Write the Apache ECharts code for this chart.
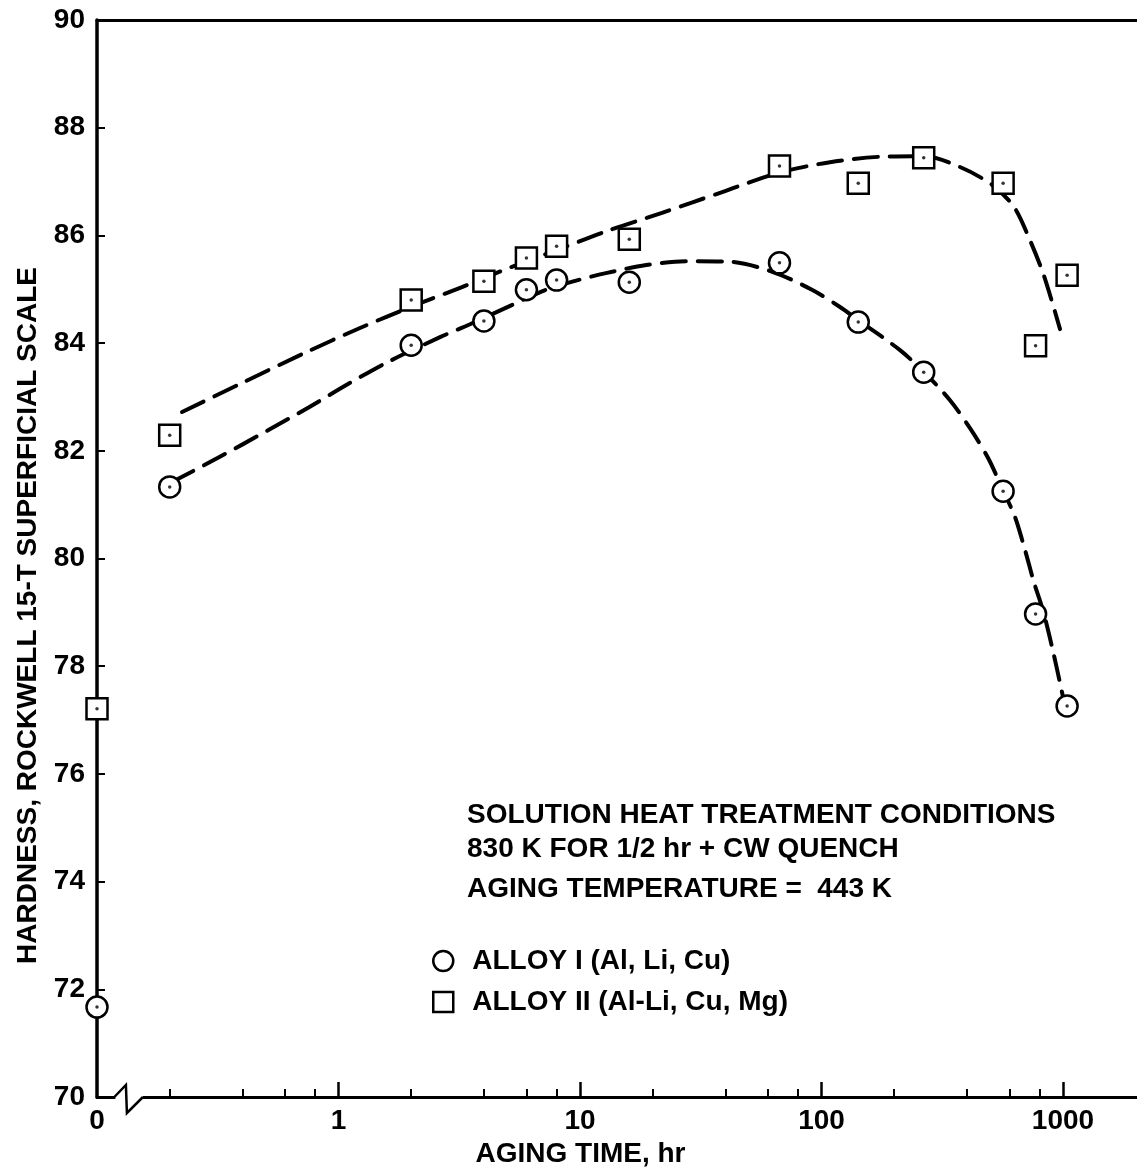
<!DOCTYPE html>
<html>
<head>
<meta charset="utf-8">
<script src="https://cdn.jsdelivr.net/npm/echarts@6/dist/echarts.min.js"></script>
<style>
  html, body { margin: 0; padding: 0; background: #fff; }
  #chart { width: 1137px; height: 1170px; }
</style>
</head>
<body>
<div id="chart"></div>
<script>
// measured points (aging time 0 sits at the broken start of the axis)
const alloy1Time = [0, 0.2, 2, 4, 6, 8, 16, 67, 142, 265, 565, 770, 1040];
const alloy1Hard = [71.67, 81.33, 83.96, 84.41, 84.99, 85.17, 85.13, 85.49, 84.39, 83.46, 81.25, 78.97, 77.26];
const alloy2Time = [0, 0.2, 2, 4, 6, 8, 16, 67, 142, 265, 565, 770, 1040];
const alloy2Hard = [77.21, 82.29, 84.80, 85.15, 85.58, 85.80, 85.93, 87.29, 86.97, 87.44, 86.97, 83.95, 85.26];

// dashed fitted curves
const curve1Time = [0.2045, 0.317, 0.515, 0.755, 1.095, 1.603, 2.633, 3.504, 4.80, 7.23, 9.81, 12.8, 18.8, 27.5, 41.8, 63.0, 91.3, 119.3, 141.6, 211.4, 265.7, 340.5, 412, 489, 564, 633, 696, 759, 827, 909, 1000];
const curve1Hard = [81.42, 81.87, 82.39, 82.81, 83.24, 83.65, 84.11, 84.35, 84.63, 84.99, 85.17, 85.30, 85.45, 85.52, 85.51, 85.32, 84.99, 84.67, 84.43, 83.87, 83.46, 82.94, 82.42, 81.87, 81.27, 80.77, 80.16, 79.55, 79.03, 78.28, 77.43];
const curve2Time = [0.225, 0.3985, 0.7265, 1.2275, 2.035, 3.246, 5.179, 8.263, 12.93, 21.86, 39.09, 66.06, 108.4, 174.7, 265.7, 374.6, 508.2, 626.7, 730, 834, 972];
const curve2Hard = [82.72, 83.26, 83.82, 84.28, 84.69, 85.04, 85.41, 85.75, 86.08, 86.42, 86.81, 87.16, 87.36, 87.46, 87.47, 87.27, 86.94, 86.53, 85.91, 85.25, 84.26];

const majorTicks = [1, 10, 100, 1000];
const minorTicks = [0.2, 0.4, 0.6, 0.8, 2, 4, 6, 8, 20, 40, 60, 80, 200, 400, 600, 800];
const xLabels = [0.1, 1, 10, 100, 1000];

const notes = [
  'SOLUTION HEAT TREATMENT CONDITIONS',
  '830 K FOR 1/2 hr + CW QUENCH',
  'AGING TEMPERATURE =  443 K'
];
const seriesNames = ['ALLOY I (Al, Li, Cu)', 'ALLOY II (Al-Li, Cu, Mg)'];

const X_MIN = 0.1;   // the "0" of the broken axis
const X_MAX = 2124;
const FONT = 'Liberation Sans, Arial, Helvetica, sans-serif';

const pairs = (xs, ys) => xs.map((x, i) => [x === 0 ? X_MIN : x, ys[i]]);

const chart = echarts.init(document.getElementById('chart'), null, { renderer: 'canvas' });

const baseX = {
  type: 'log',
  logBase: 10,
  min: X_MIN,
  max: X_MAX,
  gridIndex: 0,
  splitLine: { show: false },
  minorTick: { show: false }
};

const scatterSeries = (name, symbol, data) => ({
  name,
  type: 'scatter',
  symbol,
  symbolSize: 21,
  data,
  z: 5,
  itemStyle: { color: '#fff', borderColor: '#000', borderWidth: 2.5, opacity: 1 }
});

const dotSeries = (data) => ({
  type: 'scatter',
  symbol: 'circle',
  symbolSize: 3.5,
  data,
  z: 6,
  silent: true,
  itemStyle: { color: '#000' }
});

const curveSeries = (data) => ({
  type: 'line',
  data,
  smooth: 0.3,
  showSymbol: false,
  silent: true,
  z: 3,
  lineStyle: { color: '#000', width: 4, type: [24, 12], cap: 'round' }
});

const option = {
  backgroundColor: '#fff',
  animation: false,
  textStyle: { fontFamily: FONT },
  grid: { left: 97, top: 20, right: -5, bottom: 73, containLabel: false, outerBoundsMode: 'none' },
  legend: {
    data: seriesNames,
    orient: 'vertical',
    left: 427,
    top: 941,
    itemWidth: 20,
    itemHeight: 20,
    itemGap: 11,
    selectedMode: false,
    itemStyle: { color: '#fff', borderColor: '#000', borderWidth: 2.5 },
    textStyle: { fontFamily: FONT, fontSize: 28, fontWeight: 'bold', color: '#000', lineHeight: 30, padding: [0, 0, 0, 14] }
  },
  xAxis: [
    Object.assign({}, baseX, {
      position: 'bottom',
      axisLine: { show: true, lineStyle: { color: '#000', width: 3 } },
      axisTick: { show: true, inside: true, length: 15, lineStyle: { color: '#000', width: 2.5 }, customValues: majorTicks },
      axisLabel: {
        show: true,
        customValues: xLabels,
        margin: 10,
        color: '#000',
        fontFamily: FONT,
        fontSize: 28,
        fontWeight: 'bold',
        formatter: v => (v < 0.5 ? '0' : String(Math.round(v)))
      },
      name: 'AGING TIME, hr',
      nameLocation: 'middle',
      nameGap: 42,
      nameTextStyle: { color: '#000', fontFamily: FONT, fontSize: 28, fontWeight: 'bold', padding: [0, 78, 0, 0] }
    }),
    Object.assign({}, baseX, {
      position: 'bottom',
      axisLine: { show: false },
      axisTick: { show: true, inside: true, length: 8, lineStyle: { color: '#000', width: 2 }, customValues: minorTicks },
      axisLabel: { show: false }
    }),
    Object.assign({}, baseX, {
      position: 'top',
      axisLine: { show: true, lineStyle: { color: '#000', width: 3 } },
      axisTick: { show: false },
      axisLabel: { show: false }
    })
  ],
  yAxis: {
    type: 'value',
    min: 70,
    max: 90,
    interval: 2,
    splitLine: { show: false },
    axisLine: { show: true, lineStyle: { color: '#000', width: 3.5 } },
    axisTick: { show: true, inside: true, length: 8, lineStyle: { color: '#000', width: 2 } },
    axisLabel: { color: '#000', fontFamily: FONT, fontSize: 28, fontWeight: 'bold', margin: 12 },
    name: 'HARDNESS, ROCKWELL 15-T SUPERFICIAL SCALE',
    nameLocation: 'middle',
    nameGap: 55,
    nameTextStyle: { color: '#000', fontFamily: FONT, fontSize: 28, fontWeight: 'bold', padding: [0, 114, 0, 0] }
  },
  series: [
    curveSeries(pairs(curve1Time, curve1Hard)),
    curveSeries(pairs(curve2Time, curve2Hard)),
    scatterSeries(seriesNames[0], 'circle', pairs(alloy1Time, alloy1Hard)),
    scatterSeries(seriesNames[1], 'rect', pairs(alloy2Time, alloy2Hard)),
    dotSeries(pairs(alloy1Time, alloy1Hard)),
    dotSeries(pairs(alloy2Time, alloy2Hard))
  ]
};

chart.setOption(option);

// notes block + the zigzag break on the time axis
const axisY = chart.convertToPixel({ yAxisIndex: 0 }, 70);
const bx0 = chart.convertToPixel({ xAxisIndex: 0 }, 0.118);
const bx1 = chart.convertToPixel({ xAxisIndex: 0 }, 0.133);
const bx2 = chart.convertToPixel({ xAxisIndex: 0 }, 0.155);

const noteY = [815, 849, 889];
chart.setOption({
  graphic: [
    {
      type: 'rect',
      z: 100,
      shape: { x: bx0 + 1, y: axisY - 3, width: bx2 - bx0 - 1, height: 6 },
      style: { fill: '#fff' }
    },
    {
      type: 'polyline',
      z: 101,
      shape: { points: [[bx0, axisY], [bx1 - 1, axisY - 12], [bx1, axisY + 16], [bx2, axisY]] },
      style: { stroke: '#000', lineWidth: 2.5, fill: null }
    }
  ].concat(notes.map((t, i) => ({
    type: 'text',
    x: 467,
    y: noteY[i],
    z: 50,
    style: { text: t, fill: '#000', font: 'bold 28px ' + FONT, verticalAlign: 'middle' }
  })))
});
</script>
</body>
</html>
